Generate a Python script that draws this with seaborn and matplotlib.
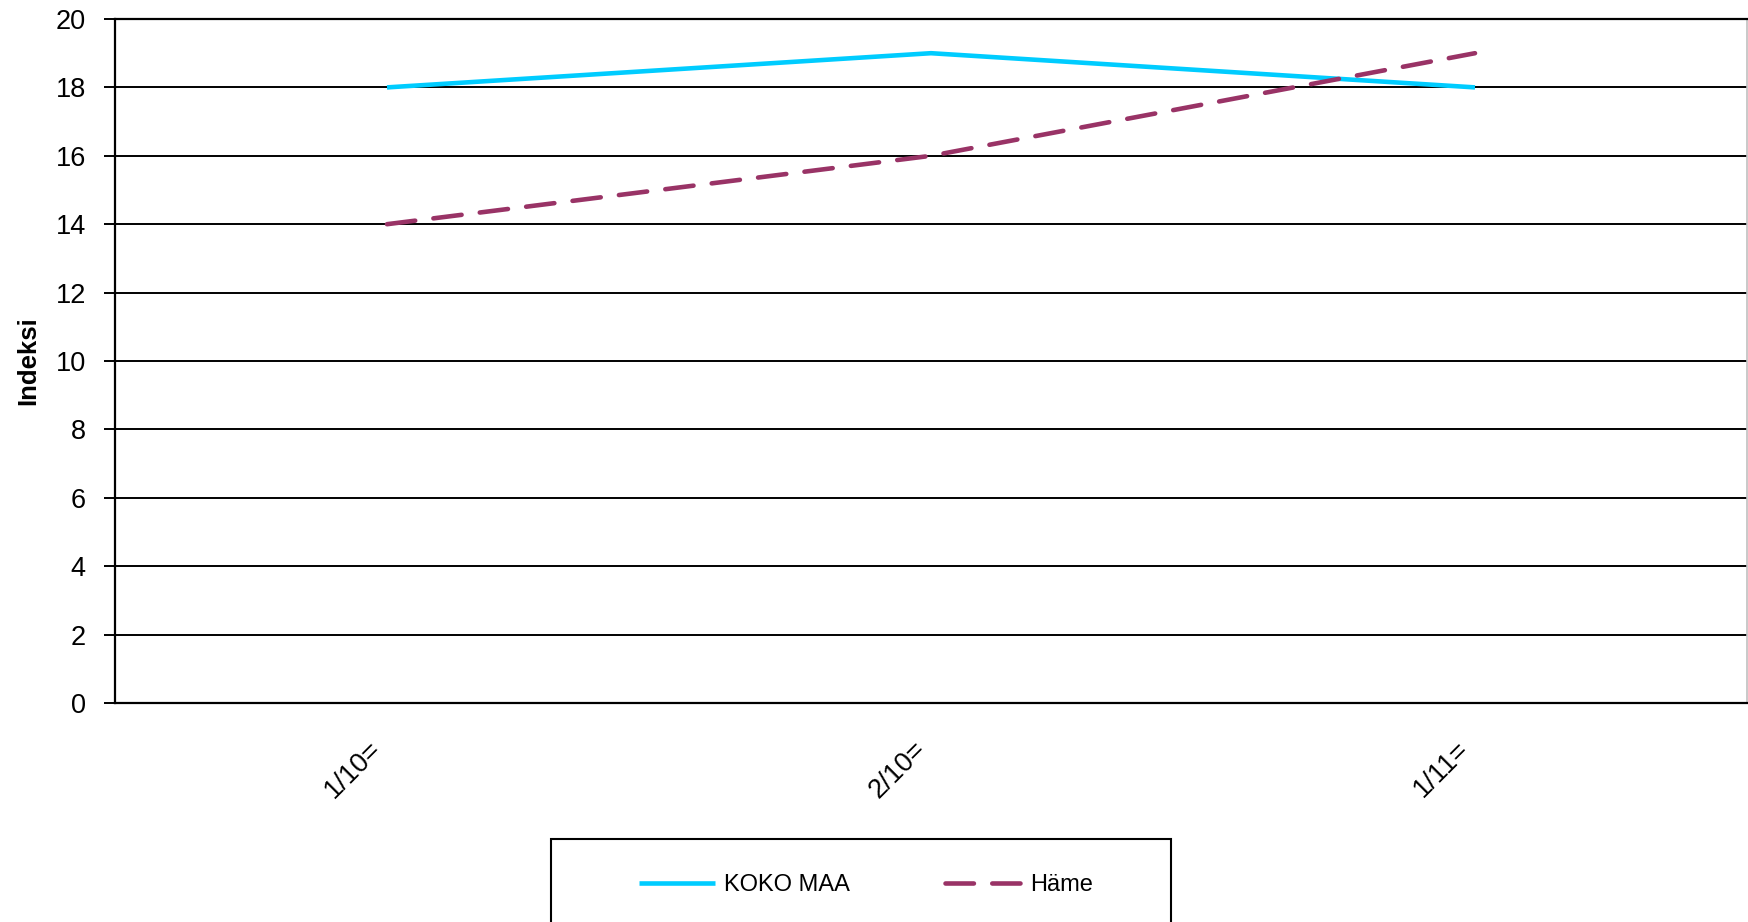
import pandas as pd
import numpy as np
import matplotlib
matplotlib.use("Agg")
import matplotlib.pyplot as plt
from matplotlib.patches import Rectangle
import seaborn as sns

"""Data read from the chart"""
periods = ["1/10=", "2/10=", "1/11="]
koko_maa = [18, 19, 18]
hame = [14, 16, 19]
series_names = ["KOKO MAA", "Häme"]
y_ticks = [0, 2, 4, 6, 8, 10, 12, 14, 16, 18, 20]

df = pd.DataFrame({
    "jakso": periods * 2,
    "indeksi": koko_maa + hame,
    "sarja": [series_names[0]] * 3 + [series_names[1]] * 3,
})

sns.set_style("white")
plt.rcParams["font.family"] = ["Liberation Sans", "DejaVu Sans"]
plt.rcParams["text.color"] = "black"
plt.rcParams["axes.labelcolor"] = "black"
plt.rcParams["xtick.color"] = "black"
plt.rcParams["ytick.color"] = "black"

W, H = 1749, 922
fig = plt.figure(figsize=(W / 100, H / 100), dpi=100)
ax = fig.add_axes([115 / W, 1 - 703 / H, (1747 - 115) / W, (703 - 19) / H])

# lines
sns.lineplot(data=df, x="jakso", y="indeksi", hue="sarja", style="sarja",
             palette={"KOKO MAA": "#00CCFF", "Häme": "#993366"},
             dashes={"KOKO MAA": "", "Häme": (6.2, 4.0)},
             linewidth=3.3, sort=False, ax=ax,
             dash_capstyle="round", solid_capstyle="butt")

ax.set_xlim(-0.5, 2.5)
ax.set_ylim(0, 20)
ax.set_yticks(y_ticks)
ax.yaxis.grid(True, color="black", linewidth=1.4)
ax.set_axisbelow(True)

for s in ["left", "bottom", "top"]:
    ax.spines[s].set_color("black")
    ax.spines[s].set_linewidth(1.6)
ax.spines["right"].set_color("#c0c0c0")
ax.spines["right"].set_linewidth(1.2)

ax.tick_params(axis="y", direction="out", length=8, width=1.4, color="black",
               labelsize=19.5, labelcolor="black", pad=13, left=True)
ax.tick_params(axis="x", length=0, labelsize=19.5, labelcolor="black", pad=24)
plt.setp(ax.get_xticklabels(), rotation=45, ha="right")

ax.set_xlabel("")
ax.set_ylabel("Indeksi", fontsize=18.5, fontweight="bold", labelpad=11)

# legend at the bottom, box partly outside the figure
handles, labels = ax.get_legend_handles_labels()
ax.get_legend().remove()
fig.legend(handles, labels, loc="center", bbox_to_anchor=(866 / W, 1 - 885 / H),
           ncol=2, frameon=False, fontsize=17, handlelength=3.2,
           handletextpad=0.4, columnspacing=4.0, borderpad=0)
fig.patches.append(Rectangle((551 / W, -0.1), (1171 - 551) / W, (1 - 839 / H) + 0.1,
                             transform=fig.transFigure, fill=False,
                             edgecolor="black", linewidth=1.5))

fig.savefig("out.png", dpi=100)
